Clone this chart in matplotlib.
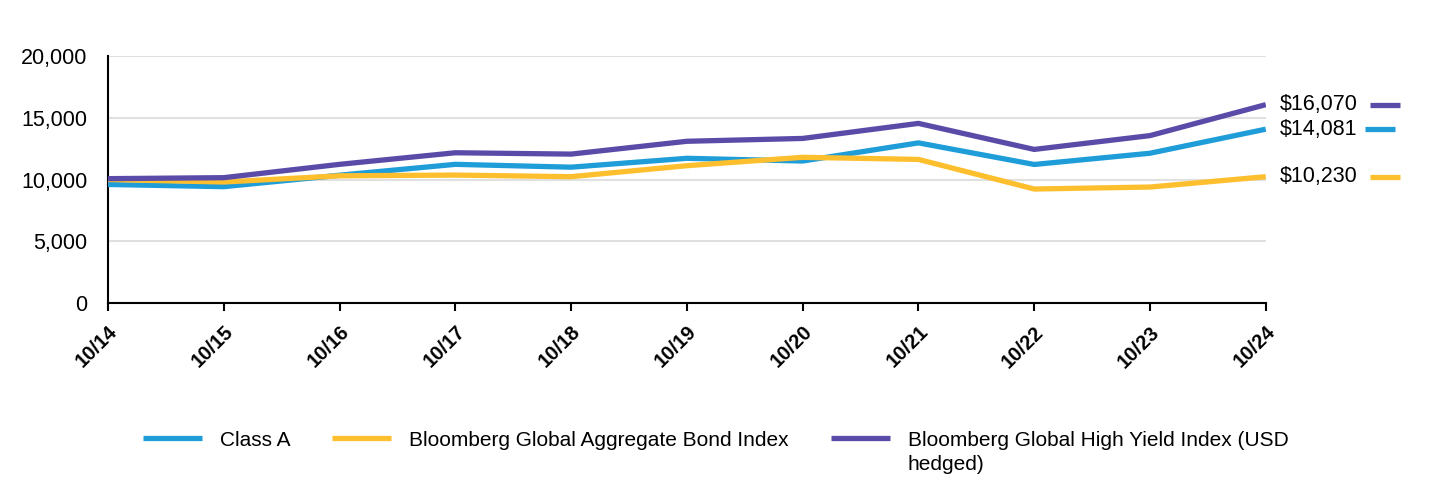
import matplotlib.pyplot as plt
from matplotlib.transforms import blended_transform_factory
from matplotlib.ticker import FuncFormatter

plt.rcParams['font.family'] = ['Liberation Sans', 'DejaVu Sans']

years = ["10/14", "10/15", "10/16", "10/17", "10/18", "10/19", "10/20", "10/21", "10/22", "10/23", "10/24"]
class_a = [9600, 9420, 10350, 11230, 11000, 11720, 11500, 12970, 11220, 12130, 14081]
agg_bond = [10000, 9800, 10300, 10360, 10230, 11120, 11800, 11630, 9230, 9390, 10230]
high_yield = [10070, 10150, 11230, 12170, 12060, 13100, 13330, 14550, 12440, 13560, 16070]

names = ["Class A", "Bloomberg Global Aggregate Bond Index",
         "Bloomberg Global High Yield Index (USD"]
name_tail = "hedged)"
end_labels = ["$14,081", "$10,230", "$16,070"]
colors = ["#1f9dd9", "#fdbf2d", "#5b4ba8"]

fig = plt.figure(figsize=(14.4, 4.8), dpi=100)
ax = fig.add_axes([0.075, 0.369, 0.804, 0.514])

x = list(range(len(years)))
lines = []
for series, name, c in zip([class_a, agg_bond, high_yield], names, colors):
    ln, = ax.plot(x, series, color=c, lw=3.8, label=name, solid_capstyle='butt', zorder=3)
    lines.append(ln)

ax.set_xlim(0, len(years) - 1)
ax.set_ylim(0, 20000)
ax.set_yticks([0, 5000, 10000, 15000, 20000])
ax.yaxis.set_major_formatter(FuncFormatter(lambda v, p: f"{int(v):,}"))
ax.set_xticks(x)
ax.set_xticklabels(years, rotation=45, ha='right', rotation_mode='anchor',
                   fontsize=14.5, fontweight='bold')
ax.tick_params(axis='y', length=0, labelsize=15.5, pad=15)
ax.tick_params(axis='x', length=6, width=1.5, pad=8)
ax.grid(axis='y', color='#e0e0e0', lw=1.5, zorder=0)
for s in ['top', 'right']:
    ax.spines[s].set_visible(False)
ax.spines['left'].set_linewidth(1.5)
ax.spines['bottom'].set_linewidth(1.5)

# end-value labels on the right
tr = blended_transform_factory(ax.transAxes, ax.transData)
offsets = [(1.0855, 1.1114), (1.0898, 1.1157), (1.0898, 1.1157)]
for series, lab, c, (x0, x1) in zip([class_a, agg_bond, high_yield], end_labels, colors, offsets):
    v = series[-1]
    ax.text(1.012, v, lab, transform=tr, va='center', ha='left', fontsize=15.5)
    ax.plot([x0, x1], [v, v], transform=tr, color=c, lw=3.8, clip_on=False,
            solid_capstyle='butt')

leg = fig.legend(handles=lines, loc='center left', bbox_to_anchor=(0.099, 0.083),
                 ncol=3, frameon=False, fontsize=15, handlelength=2.85,
                 handletextpad=0.86, columnspacing=2.0, borderpad=0, borderaxespad=0)

# second line of the wrapped third legend entry
fig.canvas.draw()
bb = leg.get_texts()[2].get_window_extent().transformed(fig.transFigure.inverted())
fig.text(bb.x0, bb.y0 - 0.012, name_tail, fontsize=15, va='top', ha='left')

fig.savefig("out.png", dpi=100)
